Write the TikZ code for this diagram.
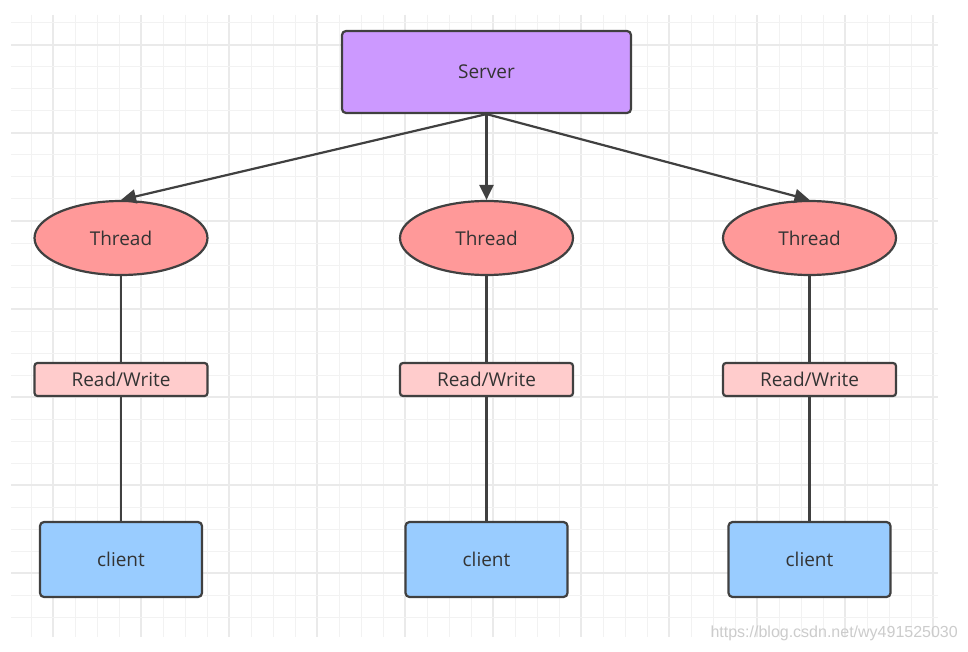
\documentclass[tikz,border=0pt]{standalone}
\usepackage{fontspec}
\setmainfont{Open Sans}
\newfontfamily\markfont{Liberation Sans}
\usetikzlibrary{shapes.geometric,arrows.meta}
\definecolor{gridminor}{HTML}{F2F2F2}
\definecolor{gridmajor}{HTML}{EAEAEA}
\definecolor{edgecol}{HTML}{404040}
\definecolor{txtcol}{HTML}{333333}
\definecolor{servercol}{HTML}{CC99FF}
\definecolor{threadcol}{HTML}{FF9999}
\definecolor{rwcol}{HTML}{FFCCCC}
\definecolor{clientcol}{HTML}{99CCFF}
\definecolor{markcol}{HTML}{CCCCCC}
\tikzset{
  base/.style={draw=edgecol, line width=2.2pt, text=txtcol, font=\fontsize{19}{22}\selectfont, inner sep=0pt},
  serverbox/.style={base, rectangle, rounded corners=4pt, fill=servercol, minimum width=289pt, minimum height=82pt},
  threadell/.style={base, ellipse, fill=threadcol, minimum width=173pt, minimum height=74pt},
  rwbox/.style={base, rectangle, rounded corners=3pt, fill=rwcol, minimum width=173pt, minimum height=33pt},
  clientbox/.style={base, rectangle, rounded corners=4pt, fill=clientcol, minimum width=162pt, minimum height=75pt},
  conn/.style={draw=edgecol, line width=2.2pt},
  arr/.style={conn, -{Triangle[length=15pt,width=14pt]}},
}
\begin{document}
\begin{tikzpicture}[x=1pt,y=-1pt]
\useasboundingbox (0,0) rectangle (968,652);
\fill[white] (0,0) rectangle (968,652);
% grid
\foreach \i in {0,...,41} {
  \pgfmathsetmacro{\xx}{31+22*\i}
  \pgfmathtruncatemacro{\m}{mod(\i,4)}
  \ifnum\m=1 \draw[gridmajor, line width=1.1pt] (\xx,15) -- (\xx,637);
  \else \draw[gridminor, line width=1pt] (\xx,15) -- (\xx,637); \fi
}
\foreach \j in {0,...,27} {
  \pgfmathsetmacro{\yy}{23+22*\j}
  \pgfmathtruncatemacro{\m}{mod(\j,4)}
  \ifnum\m=1 \draw[gridmajor, line width=1.1pt] (11,\yy) -- (938,\yy);
  \else \draw[gridminor, line width=1pt] (11,\yy) -- (938,\yy); \fi
}
% nodes
\node[serverbox] (server) at (486.5,72) {Server};
\node[threadell] (t1) at (121,238) {Thread};
\node[threadell] (t2) at (486.5,238) {Thread};
\node[threadell] (t3) at (809.5,238) {Thread};
\node[rwbox] (rw1) at (121,379.5) {Read/Write};
\node[rwbox] (rw2) at (486.5,379.5) {Read/Write};
\node[rwbox] (rw3) at (809.5,379.5) {Read/Write};
\node[clientbox] (c1) at (121,559.5) {client};
\node[clientbox] (c2) at (486.5,559.5) {client};
\node[clientbox] (c3) at (809.5,559.5) {client};
% connectors
\draw[arr] (server.south) -- (t1.north);
\draw[arr] (server.south) -- (t2.north);
\draw[arr] (server.south) -- (t3.north);
\draw[conn] (t1.south) -- (rw1.north);
\draw[conn] (t2.south) -- (rw2.north);
\draw[conn] (t3.south) -- (rw3.north);
\draw[conn] (rw1.south) -- (c1.north);
\draw[conn] (rw2.south) -- (c2.north);
\draw[conn] (rw3.south) -- (c3.north);
% watermark
\node[anchor=east, text=markcol, font=\fontsize{16}{18}\selectfont\markfont, inner sep=0pt] (wm) at (958,633) {https://blog.csdn.net/wy491525030};
\end{tikzpicture}
\end{document}
